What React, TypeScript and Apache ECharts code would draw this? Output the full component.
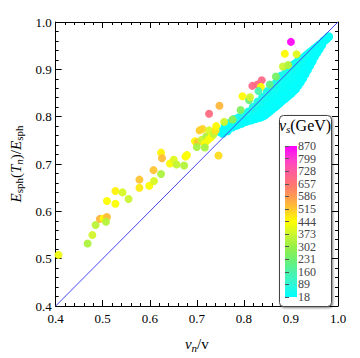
import React, { useEffect, useRef } from 'react';
import * as echarts from 'echarts';

const FONT = 'Liberation Serif';

// axis range / ticks
const axisMin = 0.4;
const axisMax = 1.0;
const axisStep = 0.1;

// colour legend ticks (v_s in GeV)
const legendTicks = [18, 89, 160, 231, 302, 373, 444, 515, 586, 657, 728, 799, 870];
const scaleColors = [
  '#00FFFF', '#30F8D8', '#4CF2A8', '#6EF070', '#98F048', '#CCF630', '#FFFF00',
  '#FFC72E', '#FF9A52', '#FF7474', '#FF5C9E', '#FF3CD0', '#FF00FF',
];

// dense band of low-v_s points: [v_n/v, E_sph(T_n)/E_sph, v_s]
const bandPoints: number[][] = [
  [0.750, 0.768, 30],
  [0.755, 0.765, 25],
  [0.760, 0.772, 40], [0.760, 0.779, 25],
  [0.765, 0.770, 30],
  [0.770, 0.777, 30], [0.770, 0.786, 45],
  [0.775, 0.778, 25],
  [0.780, 0.781, 25], [0.780, 0.788, 35], [0.780, 0.794, 50],
  [0.785, 0.782, 20],
  [0.790, 0.785, 20], [0.790, 0.792, 30], [0.790, 0.798, 55],
  [0.795, 0.786, 25],
  [0.800, 0.789, 25], [0.800, 0.797, 35], [0.800, 0.804, 60],
  [0.805, 0.790, 20],
  [0.810, 0.793, 20], [0.810, 0.801, 30], [0.810, 0.810, 50],
  [0.815, 0.793, 25],
  [0.820, 0.795, 25], [0.820, 0.803, 30], [0.820, 0.812, 40], [0.820, 0.820, 65],
  [0.825, 0.796, 20],
  [0.830, 0.798, 20], [0.830, 0.807, 25], [0.830, 0.816, 35], [0.830, 0.824, 45], [0.830, 0.831, 70],
  [0.835, 0.799, 25],
  [0.840, 0.801, 20], [0.840, 0.811, 25], [0.840, 0.821, 30], [0.840, 0.831, 45], [0.840, 0.841, 60],
  [0.845, 0.804, 20],
  [0.850, 0.808, 20], [0.850, 0.819, 25], [0.850, 0.830, 30], [0.850, 0.842, 40], [0.850, 0.853, 65],
  [0.855, 0.812, 25],
  [0.860, 0.816, 22], [0.860, 0.828, 25], [0.860, 0.840, 30], [0.860, 0.853, 40], [0.860, 0.865, 70],
  [0.865, 0.820, 20],
  [0.870, 0.824, 20], [0.870, 0.836, 25], [0.870, 0.848, 30], [0.870, 0.861, 45], [0.870, 0.873, 60],
  [0.875, 0.828, 25],
  [0.880, 0.833, 20], [0.880, 0.846, 25], [0.880, 0.859, 30], [0.880, 0.872, 40], [0.880, 0.886, 55],
  [0.885, 0.837, 20],
  [0.890, 0.841, 20], [0.890, 0.855, 25], [0.890, 0.868, 30], [0.890, 0.882, 35], [0.890, 0.896, 60],
  [0.895, 0.845, 25],
  [0.900, 0.849, 22], [0.900, 0.863, 25], [0.900, 0.877, 30], [0.900, 0.892, 40], [0.900, 0.906, 55],
  [0.905, 0.854, 20], [0.905, 0.909, 45],
  [0.910, 0.859, 20], [0.910, 0.872, 25], [0.910, 0.885, 30], [0.910, 0.899, 35], [0.910, 0.912, 50],
  [0.915, 0.866, 25], [0.915, 0.916, 40],
  [0.920, 0.873, 20], [0.920, 0.885, 25], [0.920, 0.897, 30], [0.920, 0.908, 35], [0.920, 0.920, 50],
  [0.925, 0.881, 20], [0.925, 0.923, 40],
  [0.930, 0.890, 20], [0.930, 0.902, 25], [0.930, 0.915, 30], [0.930, 0.927, 45],
  [0.935, 0.899, 25], [0.935, 0.931, 35],
  [0.940, 0.908, 20], [0.940, 0.917, 25], [0.940, 0.926, 30], [0.940, 0.935, 40],
  [0.945, 0.917, 20], [0.945, 0.939, 35],
  [0.950, 0.927, 22], [0.950, 0.935, 28], [0.950, 0.943, 35],
  [0.955, 0.935, 25], [0.955, 0.947, 30],
  [0.960, 0.943, 25], [0.960, 0.951, 30],
  [0.965, 0.951, 20], [0.965, 0.955, 30],
  [0.970, 0.960, 25],
  [0.975, 0.964, 25],
  [0.980, 0.969, 30],
];

// scattered points: [v_n/v, E_sph(T_n)/E_sph, v_s]
const scatterPoints: number[][] = [
  [0.406, 0.508, 420], [0.468, 0.532, 330], [0.478, 0.550, 380], [0.485, 0.571, 350],
  [0.494, 0.584, 540], [0.502, 0.585, 450], [0.509, 0.588, 530], [0.507, 0.578, 340],
  [0.509, 0.622, 440], [0.527, 0.616, 440], [0.527, 0.643, 460], [0.542, 0.640, 390],
  [0.555, 0.626, 370], [0.578, 0.667, 520], [0.578, 0.650, 470], [0.599, 0.654, 440],
  [0.609, 0.664, 390], [0.608, 0.687, 520], [0.624, 0.679, 330], [0.624, 0.724, 460],
  [0.626, 0.712, 530], [0.643, 0.701, 450], [0.651, 0.709, 400], [0.657, 0.699, 360],
  [0.673, 0.697, 340], [0.676, 0.716, 450], [0.679, 0.719, 440], [0.696, 0.748, 450],
  [0.702, 0.746, 520], [0.700, 0.736, 320], [0.706, 0.771, 510], [0.712, 0.774, 500],
  [0.710, 0.751, 370], [0.717, 0.743, 450], [0.717, 0.735, 320], [0.720, 0.758, 330],
  [0.724, 0.751, 430], [0.726, 0.771, 390], [0.726, 0.806, 680], [0.731, 0.757, 440],
  [0.736, 0.763, 360], [0.740, 0.771, 480], [0.741, 0.780, 450], [0.748, 0.823, 540],
  [0.746, 0.718, 490], [0.758, 0.789, 380], [0.776, 0.794, 280], [0.793, 0.814, 260],
  [0.797, 0.843, 450], [0.811, 0.835, 220], [0.813, 0.841, 380], [0.818, 0.865, 690],
  [0.829, 0.868, 680], [0.838, 0.877, 690], [0.836, 0.863, 440], [0.831, 0.854, 150],
  [0.855, 0.868, 200], [0.868, 0.885, 250], [0.883, 0.906, 370], [0.894, 0.909, 340],
  [0.887, 0.933, 450], [0.912, 0.932, 400], [0.900, 0.958, 860],
];

// reference diagonal
const diagonal = [[0.4, 0.4], [1.0, 1.0]];

const tickColor = '#000';

function frameAxis(position: string, showLabel: boolean, extra: any = {}) {
  return {
    gridIndex: 0,
    type: 'value',
    min: axisMin,
    max: axisMax,
    interval: axisStep,
    position,
    axisLine: { show: true, onZero: false, lineStyle: { color: '#000', width: 1 } },
    axisTick: { show: true, inside: true, length: 6, lineStyle: { color: tickColor, width: 1 } },
    minorTick: { show: true, splitNumber: 5, length: 3, lineStyle: { color: tickColor, width: 1 } },
    splitLine: { show: false },
    axisLabel: {
      show: showLabel,
      color: '#000',
      fontFamily: FONT,
      fontSize: 13,
      margin: 4,
      formatter: (v: number) => v.toFixed(1),
    },
    ...extra,
  };
}

export default function App() {
  const ref = useRef<HTMLDivElement>(null);
  useEffect(() => {
    if (!ref.current) return;
    const chart = echarts.init(ref.current, undefined, { renderer: 'svg' });
    const stops = scaleColors
      .map((c, i) => ({ offset: 1 - i / (scaleColors.length - 1), color: c }))
      .reverse();
    const option: any = {
      animation: false,
      backgroundColor: '#fff',
      grid: [
        { left: 43, top: 22, width: 295, height: 294 },
        { left: 285, top: 146, width: 12, height: 151 },
      ],
      xAxis: [
        frameAxis('bottom', true, {
          name: '{i|v}{sub|n}{n|/v}',
          nameLocation: 'middle',
          nameGap: 29,
          nameTextStyle: {
            fontFamily: FONT,
            fontSize: 15,
            color: '#000',
            rich: {
              i: { fontFamily: FONT, fontStyle: 'italic', fontSize: 15, lineHeight: 18, color: '#000' },
              n: { fontFamily: FONT, fontSize: 15, lineHeight: 18, color: '#000' },
              sub: { fontFamily: FONT, fontStyle: 'italic', fontSize: 11, lineHeight: 12, verticalAlign: 'bottom', color: '#000' },
            },
          },
          axisLabel: {
            show: true, color: '#000', fontFamily: FONT, fontSize: 13, margin: 6,
            formatter: (v: number) => v.toFixed(1),
          },
        }),
        frameAxis('top', false),
        { gridIndex: 1, type: 'value', show: false, min: 0, max: 1 },
      ],
      yAxis: [
        frameAxis('left', true, {
          name: '{i|E}{sub|sph}{n|(}{i|T}{subi|n}{n|)/}{i|E}{sub|sph}',
          nameLocation: 'middle',
          nameGap: 31,
          nameTextStyle: {
            fontFamily: FONT,
            fontSize: 15,
            color: '#000',
            rich: {
              i: { fontFamily: FONT, fontStyle: 'italic', fontSize: 15, lineHeight: 18, color: '#000' },
              n: { fontFamily: FONT, fontSize: 15, lineHeight: 18, color: '#000' },
              sub: { fontFamily: FONT, fontSize: 11, lineHeight: 12, verticalAlign: 'bottom', color: '#000' },
              subi: { fontFamily: FONT, fontStyle: 'italic', fontSize: 11, lineHeight: 12, verticalAlign: 'bottom', color: '#000' },
            },
          },
        }),
        frameAxis('right', false),
        {
          gridIndex: 1,
          type: 'value',
          min: legendTicks[0],
          max: legendTicks[legendTicks.length - 1],
          interval: legendTicks[1] - legendTicks[0],
          position: 'right',
          z: 50,
          axisLine: { show: false },
          axisTick: { show: true, inside: false, length: 4, lineStyle: { color: '#555', width: 1 } },
          splitLine: { show: false },
          axisLabel: {
            show: true,
            showMinLabel: true,
            showMaxLabel: true,
            hideOverlap: false,
            margin: 1,
            color: '#444',
            fontFamily: FONT,
            fontSize: 12,
            lineHeight: 12,
          },
        },
      ],
      visualMap: {
        type: 'continuous',
        show: false,
        dimension: 2,
        seriesIndex: [0, 1],
        min: legendTicks[0],
        max: legendTicks[legendTicks.length - 1],
        inRange: { color: scaleColors },
      },
      series: [
        {
          type: 'scatter',
          xAxisIndex: 0,
          yAxisIndex: 0,
          data: bandPoints,
          symbolSize: 9,
          itemStyle: { opacity: 1 },
          z: 2,
        },
        {
          type: 'scatter',
          xAxisIndex: 0,
          yAxisIndex: 0,
          data: scatterPoints,
          symbolSize: 8,
          itemStyle: { opacity: 0.95 },
          z: 3,
        },
        {
          type: 'line',
          xAxisIndex: 0,
          yAxisIndex: 0,
          data: diagonal,
          symbol: 'none',
          lineStyle: { color: '#4646f0', width: 1 },
          z: 5,
        },
      ],
      graphic: [
        {
          type: 'rect',
          x: 279.5,
          y: 115.5,
          z: 10,
          shape: { x: 0, y: 0, width: 52, height: 191, r: 4 },
          style: {
            fill: '#fff',
            stroke: '#444',
            lineWidth: 1,
            shadowBlur: 2,
            shadowOffsetX: 1,
            shadowOffsetY: 1,
            shadowColor: 'rgba(0,0,0,0.5)',
          },
        },
        {
          type: 'rect',
          x: 285,
          y: 146,
          z: 11,
          shape: { x: 0, y: 0, width: 12, height: 151 },
          style: { fill: new echarts.graphic.LinearGradient(0, 0, 0, 1, stops) },
        },
        {
          type: 'text',
          x: 305,
          y: 125,
          z: 12,
          style: {
            text: '{i|v}{sub|s}{n|(GeV)}',
            align: 'center',
            verticalAlign: 'middle',
            fontFamily: FONT,
            fontSize: 15,
            fill: '#000',
            rich: {
              i: { fontFamily: FONT, fontStyle: 'italic', fontSize: 16, lineHeight: 18, color: '#000' },
              n: { fontFamily: FONT, fontSize: 16, lineHeight: 18, color: '#000' },
              sub: { fontFamily: FONT, fontStyle: 'italic', fontSize: 11, lineHeight: 12, verticalAlign: 'bottom', color: '#000' },
            },
          },
        },
      ],
    };
    chart.setOption(option);
    return () => chart.dispose();
  }, []);
  return (
    <div
      ref={ref}
      style={{ position: 'fixed', left: 0, top: 0, width: 360, height: 358, background: '#fff' }}
    />
  );
}
